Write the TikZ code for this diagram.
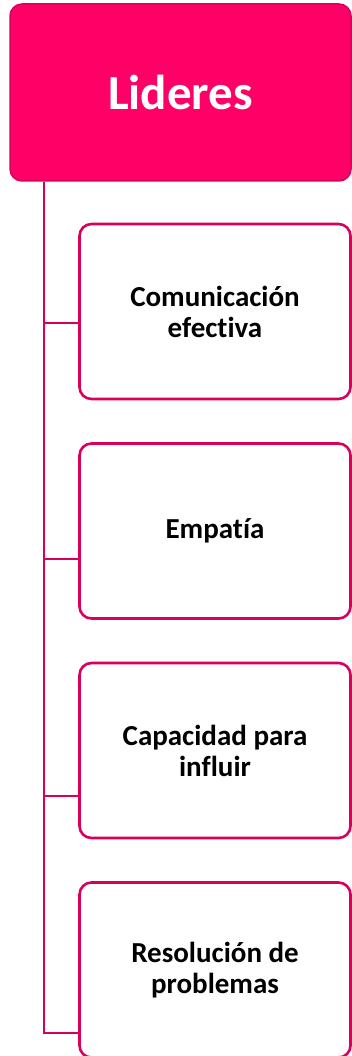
\documentclass[tikz,border=0pt]{standalone}
\usepackage{fontspec}
\setmainfont{Carlito}[Ligatures={NoCommon,NoRare}]
\usepackage{tikz}
\usetikzlibrary{shapes,arrows}
\usepackage{xcolor}
\definecolor{pinkfill}{HTML}{FF0066}
\definecolor{pinkline}{HTML}{D8005A}

\begin{document}
\begin{tikzpicture}[x=1pt,y=-1pt,
					head/.style={draw=pinkline, fill=pinkfill, line width=1.5pt, rounded corners=12pt, minimum width=341pt, minimum height=177pt, text=white, font=\fontsize{49}{52}\selectfont\bfseries},
					item/.style={draw=pinkline, fill=white, line width=2.6pt, rounded corners=12pt, minimum width=271pt, minimum height=175pt, align=center, font=\fontsize{29}{31}\selectfont\bfseries},
					link/.style={draw=pinkline, line width=2.2pt}]
    \useasboundingbox (0,0) rectangle (352,1056);
    % Place nodes
    \node [head] (lider) at (180.5,92.5){Lideres};
    \node [item] (comunic) at (215,311.5){Comunicación\\efectiva};
    \node [item] (empatia) at (215,531){Empatía};
    \node [item] (influir) at (215,750.5){Capacidad para\\influir};
    \node [item] (resol) at (215,970){Resolución de\\problemas};
    \coordinate (trunk) at ([xshift=35pt]lider.south west);
    % Draw edges
    \draw[link] (trunk) |- ([yshift=-11.5pt]comunic.west);
    \draw[link] (trunk) |- ([yshift=-28pt]empatia.west);
    \draw[link] (trunk) |- ([yshift=-45.5pt]influir.west);
    \draw[link] (trunk) |- ([yshift=-63pt]resol.west);
\end{tikzpicture}
\end{document}
